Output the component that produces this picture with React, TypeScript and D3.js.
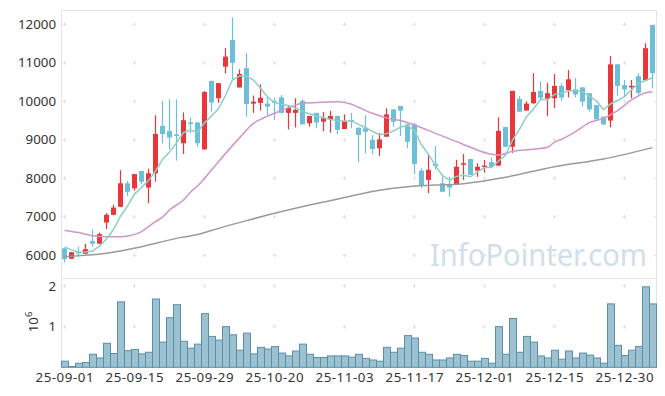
import React from 'react';
import * as d3 from 'd3';

// Trading days (YY-MM-DD)
const dates = [
  '25-09-01','25-09-02','25-09-03','25-09-04','25-09-05','25-09-08','25-09-09','25-09-10','25-09-11','25-09-12',
  '25-09-15','25-09-16','25-09-17','25-09-18','25-09-19','25-09-22','25-09-23','25-09-24','25-09-25','25-09-26',
  '25-09-29','25-09-30','25-10-01','25-10-02','25-10-10','25-10-13','25-10-14','25-10-15','25-10-16','25-10-17',
  '25-10-20','25-10-21','25-10-22','25-10-23','25-10-24','25-10-27','25-10-28','25-10-29','25-10-30','25-10-31',
  '25-11-03','25-11-04','25-11-05','25-11-06','25-11-07','25-11-10','25-11-11','25-11-12','25-11-13','25-11-14',
  '25-11-17','25-11-18','25-11-19','25-11-20','25-11-21','25-11-24','25-11-25','25-11-26','25-11-27','25-11-28',
  '25-12-01','25-12-02','25-12-03','25-12-04','25-12-05','25-12-08','25-12-09','25-12-10','25-12-11','25-12-12',
  '25-12-15','25-12-16','25-12-17','25-12-18','25-12-19','25-12-22','25-12-23','25-12-24','25-12-26','25-12-29',
  '25-12-30','26-01-02','26-01-05','26-01-06','26-01-07'
];

const opens = [
  6180,5910,6090,6040,6370,6300,6850,7050,7260,7870,
  7740,8190,7760,8130,9360,9230,9140,8910,9450,9450,
  8750,10530,10080,10900,11590,10360,10860,9940,9960,9940,
  10000,10100,9700,9700,10010,9430,9700,9470,9540,9620,
  9280,9515,9310,9300,9000,8780,9080,9790,9880,9400,
  9400,8200,7960,8370,7870,7850,7830,8355,8500,8200,
  8290,8420,8330,9330,8820,10060,9760,9950,10270,10070,
  10080,10400,10290,10310,10360,10210,9900,9600,9500,10960,
  10420,10365,10650,10550,11980
];
const highs = [
  6190,6080,6220,6300,6670,6590,7100,7310,8210,7930,
  8110,8190,8250,9640,10010,10050,10050,9710,9580,9460,
  10270,10530,10470,11380,12180,10830,11250,10150,10440,10120,
  10100,10160,9900,10080,10050,9620,9700,9720,9750,9620,
  9660,9700,9330,9640,9120,9180,9820,9790,9880,9420,
  9440,8260,8620,8840,8040,8040,8480,8630,8500,8390,
  8476,8540,9585,9330,10270,10140,10000,10727,10520,10480,
  10710,10470,10810,10600,10370,10210,9904,9600,11180,10965,
  10553,10553,10727,11507,11990
];
const lows = [
  5810,5900,5960,6030,6220,6290,6680,7040,7250,7540,
  7680,7840,7350,7920,8900,8750,8460,8630,9170,8820,
  8750,9730,9960,10730,10550,10360,9600,9700,9760,9645,
  9520,9680,9270,9320,9400,9340,9300,9220,9185,9150,
  9280,9300,8420,8650,8630,8580,9080,9340,9100,8780,
  8110,7740,7610,8230,7650,7520,7826,7960,8090,8040,
  8150,8300,8320,8820,8660,9730,9756,9930,10030,9620,
  9820,10016,10100,10104,9860,9730,9530,9385,9320,10140,
  10140,10078,10164,10540,10340
];
const closes = [
  5900,6080,6050,6160,6300,6550,7050,7240,7870,7650,
  8110,7910,8130,9150,9150,9060,9100,9510,9430,8910,
  10240,9970,10470,11160,11000,10710,9930,9990,10090,9860,
  9975,9700,9830,9775,9400,9620,9450,9560,9620,9260,
  9490,9495,9125,9210,8760,9010,9660,9470,9760,8950,
  8370,7800,8220,8320,7650,7760,8300,8390,8090,8300,
  8330,8300,9230,8820,10270,9730,9940,10240,10090,10210,
  10400,10100,10570,10180,9990,9790,9530,9400,10960,10400,
  10310,10400,10220,11380,10730
];

// Volume in millions of shares
const volumes = [
  0.15,0.02,0.10,0.12,0.32,0.23,0.59,0.34,1.61,0.41,
  0.44,0.33,0.37,1.68,0.62,1.22,1.54,0.64,0.47,0.57,
  1.32,0.76,0.67,1.00,0.80,0.42,0.84,0.33,0.49,0.45,
  0.51,0.35,0.28,0.40,0.57,0.32,0.24,0.24,0.28,0.28,
  0.28,0.25,0.32,0.22,0.18,0.15,0.49,0.37,0.47,0.78,
  0.72,0.37,0.32,0.18,0.18,0.23,0.32,0.29,0.15,0.15,
  0.22,0.10,1.00,0.32,1.20,0.37,0.76,0.62,0.28,0.23,
  0.42,0.20,0.40,0.23,0.35,0.30,0.23,0.10,1.56,0.54,
  0.29,0.42,0.51,1.98,1.56
];

// 5-day moving average (read per day)
const ma5 = [
  6220,6140,6080,6085,6110,6240,6430,6670,7010,7280,
  7590,7760,7940,8190,8490,8680,8920,9190,9250,9200,
  9440,9620,9810,10150,10560,10660,10650,10550,10340,10110,
  9970,9920,9890,9830,9740,9670,9620,9570,9530,9500,
  9480,9490,9400,9320,9220,9130,9160,9230,9330,9370,
  9240,8870,8620,8330,8070,7950,8050,8080,8040,8170,
  8280,8280,8450,8600,8990,9270,9600,9800,10050,10040,
  10180,10210,10270,10290,10250,10130,10010,9780,9930,10020,
  10120,10300,10460,10540,10610
];

// 20-day moving average: [day index, value]
const ma20: [number, number][] = [
  [0,6645],[2,6590],[4,6510],[6,6484],[8,6480],[9,6500],[11,6614],[12,6744],[13,6874],[14,6990],
  [15,7177],[17,7437],[18,7640],[19,7800],[21,8216],[22,8432],[25,9050],[27,9429],[28,9530],[30,9688],
  [32,9835],[34,9947],[37,9973],[39,9990],[41,9925],[42,9844],[44,9688],[46,9570],[48,9500],[50,9385],
  [53,9168],[56,8952],[58,8806],[61,8623],[62,8606],[64,8700],[67,8754],[69,8806],[70,8940],[71,9013],
  [73,9212],[75,9445],[77,9558],[79,9756],[81,10034],[83,10224],[84,10250]
];

// 120-day moving average: [day index, value]
const ma120: [number, number][] = [
  [0,5965],[6,6051],[11,6224],[16,6440],[19,6540],[22,6700],[26,6900],[30,7090],[35,7307],[40,7500],
  [45,7690],[49,7782],[53,7826],[56,7844],[63,8026],[70,8302],[77,8502],[84,8797]
];

const priceTicks = [6000, 7000, 8000, 9000, 10000, 11000, 12000];
const volumeTicks = [1, 2];
const xTickIdx = [0, 10, 20, 30, 40, 50, 60, 70, 80];

const UP = '#e8363b';
const DOWN = '#6cbfd9';
const FONT = "'Noto Sans', 'DejaVu Sans', sans-serif";

export default function App() {
  const W = 665, H = 396;
  const left = 61, right = 656;
  const top = 10, sep = 278.5, volBase = 367.3;

  const x = d3.scaleBand<number>().domain(d3.range(dates.length)).range([left, right]).paddingInner(0).paddingOuter(0);
  const bw = x.bandwidth();
  const cx = (i: number) => (x(i) as number) + bw / 2;
  const yP = d3.scaleLinear().domain([6000, 12000]).range([255.3, 24.3]);
  const yV = d3.scaleLinear().domain([0, 2]).range([volBase, 286]);

  const lineDaily = d3.line<number>().x((_, i) => cx(i)).y(d => yP(d));
  const lineSparse = d3.line<[number, number]>().x(d => cx(d[0])).y(d => yP(d[1])).curve(d3.curveMonotoneX);

  const gridColor = '#e2e2e2';
  const plus = (px: number, py: number, key: string) => (
    <g key={key} stroke={gridColor} strokeWidth={1}>
      <line x1={px - 2} x2={px + 2} y1={py} y2={py} />
      <line x1={px} x2={px} y1={py - 2} y2={py + 2} />
    </g>
  );

  const bodyW = 5;

  return (
    <svg width={W} height={H} style={{ position: 'absolute', left: 0, top: 0, background: '#fff' }} fontFamily={FONT}>
      <rect x={0} y={0} width={W} height={H} fill="#fff" />
      {/* watermark */}
      <text x={430} y={266} fontSize={31} fill="#cfe0e8" textLength={217} lengthAdjust="spacingAndGlyphs">InfoPointer.com</text>

      {/* frame */}
      <g stroke="#e3e3e3" strokeWidth={1} fill="none">
        <line x1={left} x2={right + 0.5} y1={top + 0.5} y2={top + 0.5} />
        <line x1={left + 0.5} x2={left + 0.5} y1={top} y2={volBase} />
        <line x1={right + 0.5} x2={right + 0.5} y1={top} y2={volBase} />
        <line x1={left} x2={right + 0.5} y1={sep} y2={sep} />
      </g>

      {/* grid markers */}
      {xTickIdx.map(i => priceTicks.map(t => plus(cx(i), yP(t), `p${i}-${t}`)))}
      {xTickIdx.map(i => volumeTicks.map(t => plus(cx(i), yV(t), `v${i}-${t}`)))}
      {priceTicks.map(t => (
        <line key={`r${t}`} x1={right - 2} x2={right + 0.5} y1={yP(t)} y2={yP(t)} stroke={gridColor} />
      ))}

      {/* candles */}
      {dates.map((_, i) => {
        const o = opens[i], c = closes[i], h = highs[i], l = lows[i];
        const col = c >= o ? UP : DOWN;
        const y1 = yP(Math.max(o, c)), y2 = yP(Math.min(o, c));
        return (
          <g key={`c${i}`}>
            <line x1={cx(i)} x2={cx(i)} y1={yP(h)} y2={yP(l)} stroke={col} strokeWidth={1.2} />
            <rect x={cx(i) - bodyW / 2} y={y1} width={bodyW} height={Math.max(1.5, y2 - y1)} fill={col} />
          </g>
        );
      })}

      {/* moving averages */}
      <path d={lineSparse(ma120) || ''} fill="none" stroke="#9a9a9a" strokeWidth={1.5} />
      <path d={lineSparse(ma20) || ''} fill="none" stroke="#d095ca" strokeWidth={1.5} />
      <path d={lineDaily(ma5) || ''} fill="none" stroke="#8ccfc5" strokeWidth={1.5} />

      {/* volume */}
      {volumes.map((v, i) => (
        <rect key={`v${i}`} x={(x(i) as number) + 0.5} y={yV(v)} width={bw} height={volBase - yV(v)}
          fill="#9cc1d1" stroke="#5b8fa8" strokeWidth={1} />
      ))}

      {/* y labels */}
      {priceTicks.map(t => (
        <text key={`yl${t}`} x={56} y={yP(t) + 4.6} textAnchor="end" fontSize={13.3} fill="#333">{t}</text>
      ))}
      {volumeTicks.map(t => (
        <text key={`vl${t}`} x={56} y={yV(t) + 4.6} textAnchor="end" fontSize={13.3} fill="#333">{t}</text>
      ))}
      <text transform="translate(38,322) rotate(-90)" textAnchor="middle" fontSize={13.3} fill="#333">
        10<tspan dy={-6} fontSize={9.5}>6</tspan>
      </text>

      {/* x labels */}
      {xTickIdx.map(i => (
        <text key={`xl${i}`} x={cx(i)} y={381.5} textAnchor="middle" fontSize={13.3} fill="#333"
          textLength={58} lengthAdjust="spacing">{dates[i]}</text>
      ))}
    </svg>
  );
}
